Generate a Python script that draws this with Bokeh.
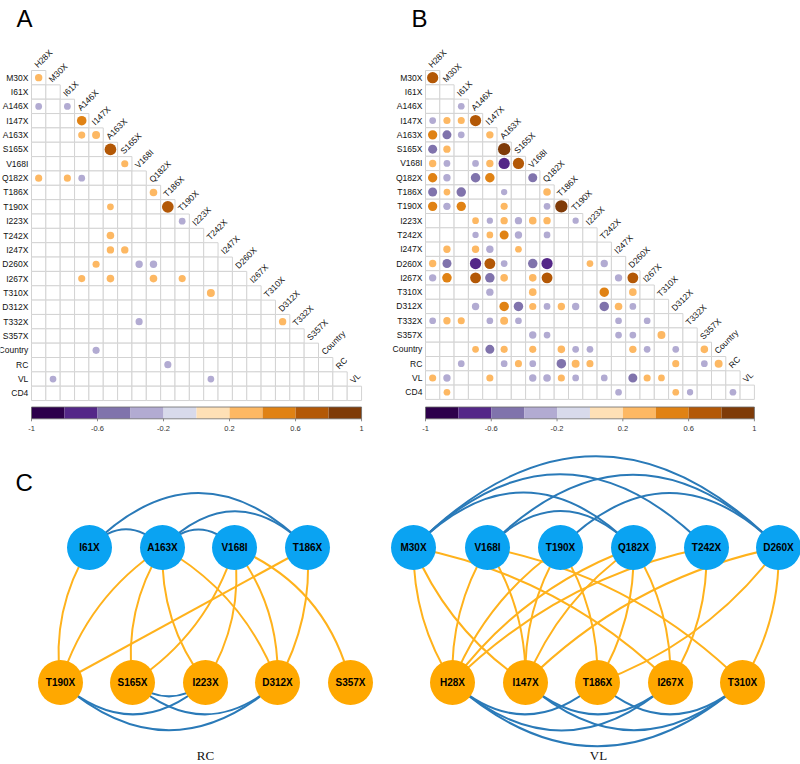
import math
from bokeh.plotting import figure
from bokeh.layouts import column, row
from bokeh.models import Range1d, ColumnDataSource
from bokeh.embed import file_html
from bokeh.resources import INLINE
from bokeh.core.properties import value

# ---------------- data ----------------
variables = ["H28X", "M30X", "I61X", "A146X", "I147X", "A163X", "S165X", "V168I",
             "Q182X", "T186X", "T190X", "I223X", "T242X", "I247X", "D260X", "I267X",
             "T310X", "D312X", "T332X", "S357X", "Country", "RC", "VL", "CD4"]

palette = ["#2D004B", "#542788", "#8073AC", "#B2ABD2", "#D8DAEB",
           "#FEE0B6", "#FDB863", "#E08214", "#B35806", "#7F3B08"]
colorbar_ticks = [-1.0, -0.6, -0.2, 0.2, 0.6, 1.0]
colorbar_tick_labels = ["-1", "-0.6", "-0.2", "0.2", "0.6", "1"]

# Panel A correlations
a_row = ["M30X", "A146X", "A146X", "I147X", "A163X", "A163X", "S165X", "V168I",
         "Q182X", "Q182X", "Q182X", "T186X", "T190X", "T190X", "I223X", "T242X",
         "I247X", "I247X", "D260X", "D260X", "D260X", "I267X", "I267X", "I267X",
         "I267X", "T310X", "T332X", "T332X", "Country", "RC", "VL", "VL"]
a_col = ["H28X", "H28X", "I61X", "A146X", "A146X", "I147X", "A163X", "S165X",
         "H28X", "I61X", "A146X", "Q182X", "A163X", "T186X", "T190X", "A163X",
         "A163X", "S165X", "I147X", "V168I", "Q182X", "A146X", "A163X", "Q182X",
         "T190X", "T242X", "V168I", "D312X", "I147X", "T186X", "M30X", "T242X"]
a_val = [0.30, -0.25, -0.25, 0.50, 0.28, 0.35, 0.75, 0.28,
         0.28, 0.28, -0.25, 0.32, 0.25, 0.75, -0.25, 0.32,
         0.30, 0.30, 0.28, -0.30, -0.30, 0.28, 0.32, 0.32,
         0.28, 0.35, -0.28, 0.30, -0.28, -0.28, -0.25, -0.25]

# Panel B correlations
b_row = (["M30X"] + ["A146X"] + ["I147X"] * 4 + ["A163X"] * 4 + ["S165X"] * 3
         + ["V168I"] * 6 + ["Q182X"] * 5 + ["T186X"] * 5 + ["T190X"] * 6
         + ["I223X"] * 7 + ["T242X"] * 5 + ["I247X"] * 4 + ["D260X"] * 9
         + ["I267X"] * 9 + ["T310X"] * 4 + ["D312X"] * 10 + ["T332X"] * 8
         + ["S357X"] * 5 + ["Country"] * 11 + ["RC"] * 10 + ["VL"] * 11 + ["CD4"] * 5)
b_col = (["H28X"]
         + ["I61X"]
         + ["H28X", "M30X", "I61X", "A146X"]
         + ["H28X", "M30X", "I61X", "I147X"]
         + ["H28X", "M30X", "A163X"]
         + ["H28X", "M30X", "A146X", "I147X", "A163X", "S165X"]
         + ["H28X", "M30X", "A146X", "I147X", "V168I"]
         + ["H28X", "M30X", "I61X", "A163X", "Q182X"]
         + ["H28X", "M30X", "I61X", "A163X", "Q182X", "T186X"]
         + ["A146X", "I147X", "A163X", "S165X", "V168I", "Q182X", "T190X"]
         + ["A146X", "I147X", "A163X", "S165X", "Q182X"]
         + ["M30X", "A146X", "I147X", "S165X"]
         + ["H28X", "M30X", "A146X", "I147X", "A163X", "V168I", "Q182X", "I223X", "T242X"]
         + ["H28X", "M30X", "A146X", "I147X", "A163X", "V168I", "Q182X", "I247X", "D260X"]
         + ["I147X", "V168I", "T242X", "D260X"]
         + ["A146X", "A163X", "S165X", "V168I", "Q182X", "T186X", "T190X", "T242X", "I247X", "D260X"]
         + ["H28X", "M30X", "I61X", "I147X", "A163X", "S165X", "I247X", "I267X"]
         + ["V168I", "Q182X", "I247X", "D260X", "T310X"]
         + ["A146X", "I147X", "A163X", "V168I", "T186X", "T190X", "I223X", "D260X", "I267X", "D312X", "S357X"]
         + ["I61X", "A163X", "S165X", "V168I", "T186X", "T190X", "I223X", "D312X", "S357X", "Country"]
         + ["H28X", "M30X", "I147X", "V168I", "Q182X", "T186X", "T190X", "T242X", "D260X", "I267X", "T310X"]
         + ["M30X", "I247X", "D312X", "T332X", "RC"])
b_val = ([0.70]
         + [-0.25]
         + [-0.25, 0.28, 0.28, 0.70]
         + [0.48, -0.45, -0.25, 0.30]
         + [-0.45, 0.30, 0.85]
         + [0.30, -0.25, -0.25, 0.30, -0.70, 0.70]
         + [0.48, -0.30, -0.50, 0.50, -0.45]
         + [-0.45, 0.25, -0.50, -0.22, 0.32]
         + [0.48, -0.30, 0.48, 0.28, -0.25, 0.85]
         + [0.25, -0.22, 0.30, -0.30, 0.32, 0.30, -0.22]
         + [-0.22, 0.25, 0.45, -0.30, -0.25]
         + [0.30, 0.30, -0.30, 0.25]
         + [0.30, -0.45, -0.70, 0.65, -0.25, -0.50, -0.70, 0.25, -0.30]
         + [-0.30, 0.50, 0.65, -0.50, 0.32, 0.32, 0.65, -0.30, 0.65]
         + [-0.30, 0.32, 0.50, 0.32]
         + [-0.30, 0.50, -0.50, 0.28, -0.25, 0.30, -0.30, -0.50, 0.32, -0.25]
         + [-0.25, 0.30, 0.28, -0.25, 0.35, -0.25, -0.25, -0.25]
         + [-0.30, -0.25, -0.25, -0.25, 0.35]
         + [0.25, -0.45, 0.28, 0.28, 0.32, -0.25, -0.25, 0.30, -0.25, -0.25, 0.32]
         + [-0.25, -0.25, 0.28, -0.25, -0.50, 0.35, 0.28, 0.28, -0.25, 0.35]
         + [0.28, -0.30, 0.28, -0.30, -0.32, 0.28, -0.25, -0.25, -0.45, 0.28, 0.25]
         + [0.25, -0.25, 0.25, -0.22, -0.25])

# Networks (panel C)
rc_top = ["I61X", "A163X", "V168I", "T186X"]
rc_bottom = ["T190X", "S165X", "I223X", "D312X", "S357X"]
rc_edge_from = ["I61X", "I61X", "A163X", "A163X", "V168I", "T190X", "T190X", "S165X", "S165X",
                "I61X", "A163X", "A163X", "A163X", "A163X", "V168I", "V168I", "V168I", "T186X", "T186X"]
rc_edge_to = ["T186X", "A163X", "T186X", "V168I", "S357X", "D312X", "I223X", "I223X", "D312X",
              "T190X", "T190X", "S165X", "I223X", "D312X", "S165X", "I223X", "D312X", "T190X", "D312X"]

vl_top = ["M30X", "V168I", "T190X", "Q182X", "T242X", "D260X"]
vl_bottom = ["H28X", "I147X", "T186X", "I267X", "T310X"]
vl_edge_from = ["M30X", "M30X", "M30X", "V168I", "V168I", "T190X",
                "H28X", "H28X", "H28X", "I147X", "I147X", "T186X",
                "M30X", "M30X", "M30X", "V168I", "V168I", "V168I", "T190X", "T190X", "T190X",
                "Q182X", "Q182X", "Q182X", "Q182X", "T242X", "T242X", "D260X", "D260X", "D260X"]
vl_edge_to = ["D260X", "T242X", "Q182X", "D260X", "Q182X", "D260X",
              "T186X", "I267X", "T310X", "I267X", "T310X", "T310X",
              "H28X", "I147X", "I267X", "H28X", "I147X", "T310X", "H28X", "I147X", "T186X",
              "H28X", "I147X", "T186X", "I267X", "H28X", "I267X", "I147X", "T186X", "T310X"]

# ---------------- style / layout ----------------
FONT = value("Liberation Sans")
GRID_COLOR = "#d3d3d3"
NODE_BLUE = "#0aa3f2"
NODE_ORANGE = "#ffa800"
EDGE_BLUE = "#2a7ab8"
EDGE_ORANGE = "#ffb21c"
TOP_H = 440
BOT_H = 324
SPLIT = 378   # x where the left and right figures meet


def color_for(v):
    k = int(math.floor((v + 1.0) / 0.2))
    return palette[max(0, min(9, k))]


def base_fig(w, h, xr, yr):
    p = figure(width=w, height=h, x_range=xr, y_range=yr, toolbar_location=None,
               output_backend="svg", x_axis_type=None, y_axis_type=None,
               min_border=0, outline_line_color=None)
    p.grid.visible = False
    p.background_fill_color = "white"
    p.border_fill_color = "white"
    return p


def corr_fig(fig_x0, W, grid_left, cell, rows, cols, vals, letter):
    H = TOP_H
    n = len(variables) - 1
    grid_top = 70.0
    x_start = -(grid_left - fig_x0) / cell
    y_top = -grid_top / cell
    p = base_fig(W, H, Range1d(x_start, x_start + W / cell), Range1d(y_top + H / cell, y_top))

    cx, cy = [], []
    for i in range(n):
        for j in range(i + 1):
            cx.append(j + 0.5)
            cy.append(i + 0.5)
    p.rect(x=cx, y=cy, width=1, height=1, fill_color="white", line_color=GRID_COLOR, line_width=1)

    xs = [variables.index(c) + 0.5 for c in cols]
    ys = [variables.index(r) - 1 + 0.5 for r in rows]
    rs = [0.47 * math.sqrt(abs(v)) for v in vals]
    cs = [color_for(v) for v in vals]
    src = ColumnDataSource(dict(x=xs, y=ys, r=rs, c=cs))
    p.circle(x="x", y="y", radius="r", fill_color="c", line_color=None, source=src)

    p.text(x=[-0.22] * n, y=[i + 0.5 for i in range(n)], text=variables[1:],
           text_align="right", text_baseline="middle", text_font=FONT,
           text_font_size="8.5px", text_color="#111111")
    p.text(x=[j + 0.3 for j in range(n)], y=[j - 0.3 for j in range(n)], text=variables[:-1],
           angle=math.pi / 4, text_align="left", text_baseline="middle", text_font=FONT,
           text_font_size="8.5px", text_color="#111111")

    cb_top = (406.5 - grid_top) / cell
    cb_bot = (418.3 - grid_top) / cell
    seg = n / len(palette)
    p.quad(left=[k * seg for k in range(len(palette))], right=[(k + 1) * seg for k in range(len(palette))],
           top=[cb_top] * len(palette), bottom=[cb_bot] * len(palette),
           fill_color=palette, line_color=None)
    p.quad(left=[0], right=[n], top=[cb_top], bottom=[cb_bot], fill_color=None,
           line_color="#6b6b6b", line_width=0.8)
    tx = [(t + 1) / 2 * n for t in colorbar_ticks]
    p.segment(x0=tx, y0=[cb_bot] * len(tx), x1=tx, y1=[cb_bot + 2.5 / cell] * len(tx),
              line_color="#6b6b6b", line_width=0.8)
    p.text(x=tx, y=[(427.5 - grid_top) / cell] * len(tx), text=colorbar_tick_labels,
           text_align="center", text_baseline="middle", text_font=FONT,
           text_font_size="7.5px", text_color="#333333")

    letter_x = 16 if fig_x0 == 0 else 411
    p.text(x=[(letter_x - grid_left) / cell], y=[(4 - grid_top) / cell], text=[letter],
           text_align="left", text_baseline="top", text_font=FONT,
           text_font_size="24px", text_color="black")
    return p


def net_fig(fig_x0, W, top_nodes, top_x, bottom_nodes, bottom_x, e_from, e_to, bends,
            caption, caption_x, letter=None):
    H = BOT_H
    p = base_fig(W, H, Range1d(fig_x0, fig_x0 + W), Range1d(TOP_H + H, TOP_H))
    top_y, bot_y = 547.0, 682.0
    pos = {}
    for nme, x in zip(top_nodes, top_x):
        pos[nme] = (x, top_y)
    for nme, x in zip(bottom_nodes, bottom_x):
        pos[nme] = (x, bot_y)

    x0s, y0s, x1s, y1s, cxs, cys, cols = [], [], [], [], [], [], []
    for a, b, k in zip(e_from, e_to, bends):
        (xa, ya), (xb, yb) = pos[a], pos[b]
        dx, dy = xb - xa, yb - ya
        L = math.hypot(dx, dy)
        nx, ny = dy / L, -dx / L
        x0s.append(xa); y0s.append(ya); x1s.append(xb); y1s.append(yb)
        cxs.append((xa + xb) / 2 + k * L * nx)
        cys.append((ya + yb) / 2 + k * L * ny)
        same = (a in top_nodes) == (b in top_nodes)
        cols.append(EDGE_BLUE if same else EDGE_ORANGE)
    order = sorted(range(len(cols)), key=lambda i: 0 if cols[i] == EDGE_ORANGE else 1)
    src = ColumnDataSource(dict(x0=[x0s[i] for i in order], y0=[y0s[i] for i in order],
                                x1=[x1s[i] for i in order], y1=[y1s[i] for i in order],
                                cx=[cxs[i] for i in order], cy=[cys[i] for i in order],
                                c=[cols[i] for i in order]))
    p.quadratic(x0="x0", y0="y0", x1="x1", y1="y1", cx="cx", cy="cy",
                line_color="c", line_width=2, source=src)

    p.circle(x=top_x, y=[top_y] * len(top_x), radius=22.5, fill_color=NODE_BLUE, line_color=None)
    p.circle(x=bottom_x, y=[bot_y] * len(bottom_x), radius=22.5, fill_color=NODE_ORANGE, line_color=None)
    p.text(x=top_x + bottom_x, y=[top_y] * len(top_x) + [bot_y] * len(bottom_x),
           text=top_nodes + bottom_nodes, text_align="center", text_baseline="middle",
           text_font=FONT, text_font_style="bold", text_font_size="10px", text_color="black")
    p.text(x=[caption_x], y=[762], text=[caption], text_align="center", text_baseline="bottom",
           text_font=value("Liberation Serif"), text_font_size="13px", text_color="#111111")
    if letter:
        p.text(x=[15], y=[468], text=[letter], text_align="left", text_baseline="top",
               text_font=FONT, text_font_size="24px", text_color="black")
    return p


pA = corr_fig(0, SPLIT, 31.0, 14.35, a_row, a_col, a_val, "A")
pB = corr_fig(SPLIT, 800 - SPLIT, 425.0, 14.3, b_row, b_col, b_val, "B")

rc_bends = [0.5, 0.5, 0.5, 0.5, 0.25, -0.44, -0.44, -0.38, -0.44,
            -0.18, -0.18, -0.18, -0.18, 0.18, 0.18, 0.18, 0.18, 0.0, 0.15]
pC1 = net_fig(0, SPLIT, rc_top, [89, 162, 234, 307], rc_bottom, [60, 132, 205, 277, 350],
              rc_edge_from, rc_edge_to, rc_bends, "RC", 205, letter="C")

vl_bends = [0.5, 0.5, 0.5, 0.5, 0.5, 0.5,
            -0.44, -0.44, -0.44, -0.44, -0.44, -0.44,
            -0.15, -0.15, 0.15, -0.15, 0.15, 0.15, -0.15, -0.15, 0.15,
            -0.15, -0.15, 0.15, 0.15, -0.15, 0.15, -0.15, 0.15, 0.15]
pC2 = net_fig(SPLIT, 800 - SPLIT, vl_top, [413, 487, 560, 633, 706, 778], vl_bottom,
              [452, 525, 597, 670, 742], vl_edge_from, vl_edge_to, vl_bends, "VL", 598)

layout = column(row(pA, pB, spacing=0), row(pC1, pC2, spacing=0), spacing=0)
open("out.html", "w").write(file_html(layout, INLINE))
